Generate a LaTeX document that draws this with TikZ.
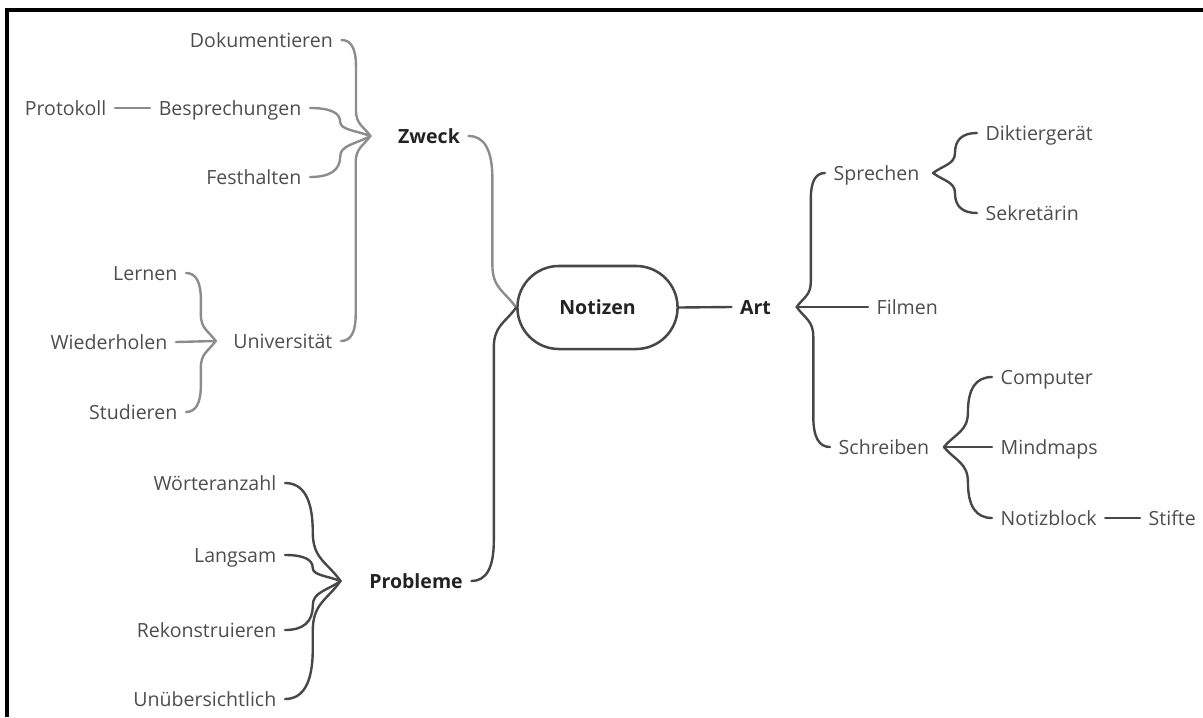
\documentclass[tikz,border=0pt]{standalone}
\usepackage{fontspec}
\setmainfont{Open Sans}
\usetikzlibrary{calc}
\usetikzlibrary{shapes.misc}

\definecolor{txtgray}{HTML}{4D4D4D}
\definecolor{inkdark}{HTML}{232323}
\definecolor{linelight}{HTML}{8C8C8C}
\definecolor{linedark}{HTML}{474747}

\tikzset{
  leaf/.style={text=txtgray, font=\fontsize{13.9}{16}\selectfont, inner xsep=6pt, inner ysep=1pt, text height=10pt, text depth=0pt},
  topic/.style={leaf, text=inkdark, font=\fontsize{13.9}{16}\selectfont\bfseries},
  hub/.style={topic, rounded rectangle, draw=linedark, line width=1.8pt, minimum width=4.425cm, minimum height=2.075cm},
  % child (start) -> junction (target): hook, upright, pointed end
  twig/.style={to path={
    let \p1=(\tikztostart), \p2=(\tikztotarget),
        \n1={(\x1+\x2)/2},
        \n2={min(abs(\y2-\y1)/2,0.9*abs(\x2-\x1))},
        \n3={ifthenelse(\y2>\y1,1,-1)},
        \n4={\y1+(\n3)*(\n2)},
        \n5={\y2-(\n3)*(\n2)},
        \n6={\y2-(\n3)*0.45*(\n2)},
        \n7={(\x2+\n1)/2},
        \n8={\y2-(\n3)*min(0.7*abs(\x2-\n1),0.4*(\n2))}
    in .. controls ({(\x1+2*\n1)/3},\y1) and (\n1,{(\n4+2*\y1)/3}) .. (\n1,\n4)
       -- (\n1,\n5)
       .. controls (\n1,\n6) and (\n7,\n8) .. (\tikztotarget) \tikztonodes}},
  soft/.style={draw=linelight, line width=1.7pt, line cap=round},
  hard/.style={draw=linedark, line width=1.7pt, line cap=round},
}

\begin{document}
\begin{tikzpicture}[x=0.025cm, y=-0.025cm]
  \useasboundingbox (0,0) rectangle (1203,717);

  % frame
  \draw[line width=2.2pt] (1203,10) -- (7,10) -- (7,717);

  % centre
  \node[hub] (notizen) at (597.5,307.5) {Notizen};

  % Zweck branch
  \node[topic] (zweck) at (429,136) {Zweck};
  \node[leaf, anchor=east] (dok) at (341.5,40) {Dokumentieren};
  \node[leaf, anchor=east] (besp) at (310,108) {Besprechungen};
  \node[leaf, anchor=east] (prot) at (115,108) {Protokoll};
  \node[leaf, anchor=east] (fest) at (310,177) {Festhalten};
  \node[leaf, anchor=east] (uni) at (341,341) {Universität};
  \node[leaf, anchor=east] (lern) at (186,273) {Lernen};
  \node[leaf, anchor=east] (wied) at (176,342) {Wiederholen};
  \node[leaf, anchor=east] (stud) at (186,412) {Studieren};
  \coordinate (jz) at ($(zweck.west)+(-19,0)$);
  \coordinate (ju) at ($(uni.west)+(-9,0)$);

  % Probleme branch
  \node[topic] (probl) at (416,581) {Probleme};
  \node[leaf, anchor=east] (woert) at (285,483) {Wörteranzahl};
  \node[leaf, anchor=east] (lang) at (285,555) {Langsam};
  \node[leaf, anchor=east] (rekon) at (285,630) {Rekonstruieren};
  \node[leaf, anchor=east] (unueb) at (285,699) {Unübersichtlich};
  \coordinate (jp) at ($(probl.west)+(-20,0)$);

  % Art branch
  \node[topic] (art) at (755.5,307) {Art};
  \node[leaf, anchor=west] (sprech) at (825,173) {Sprechen};
  \node[leaf, anchor=west] (film) at (868,307) {Filmen};
  \node[leaf, anchor=west] (schr) at (830,447) {Schreiben};
  \node[leaf, anchor=west] (dikt) at (977,133) {Diktiergerät};
  \node[leaf, anchor=west] (sekr) at (977,213) {Sekretärin};
  \node[leaf, anchor=west] (comp) at (992,377) {Computer};
  \node[leaf, anchor=west] (mind) at (992,447) {Mindmaps};
  \node[leaf, anchor=west] (notb) at (992,518) {Notizblock};
  \node[leaf, anchor=west] (stift) at (1140,518) {Stifte};
  \coordinate (ja) at ($(art.east)+(17,0)$);
  \coordinate (js) at ($(sprech.east)+(5,0)$);
  \coordinate (jw) at ($(schr.east)+(6,0)$);

  % connectors left
  \draw[soft] (zweck.east) to[twig] (notizen.west);
  \draw[hard] (probl.east) to[twig] (notizen.west);
  \foreach \n in {dok,besp,fest,uni}
    \draw[soft] (\n.east) to[twig] (jz);
  \draw[soft] (prot.east) -- (besp.west);
  \draw[soft] (lern.east) to[twig] (ju);
  \draw[soft] (wied.east) -- (ju);
  \draw[soft] (stud.east) to[twig] (ju);
  \foreach \n in {woert,lang,rekon,unueb}
    \draw[hard] (\n.east) to[twig] (jp);

  % connectors right
  \draw[hard] (notizen.east) -- (art.west);
  \draw[hard] (sprech.west) to[twig] (ja);
  \draw[hard] (film.west) -- (ja);
  \draw[hard] (schr.west) to[twig] (ja);
  \draw[hard] (dikt.west) to[twig] (js);
  \draw[hard] (sekr.west) to[twig] (js);
  \draw[hard] (comp.west) to[twig] (jw);
  \draw[hard] (mind.west) -- (jw);
  \draw[hard] (notb.west) to[twig] (jw);
  \draw[hard] (notb.east) -- (stift.west);
\end{tikzpicture}
\end{document}
